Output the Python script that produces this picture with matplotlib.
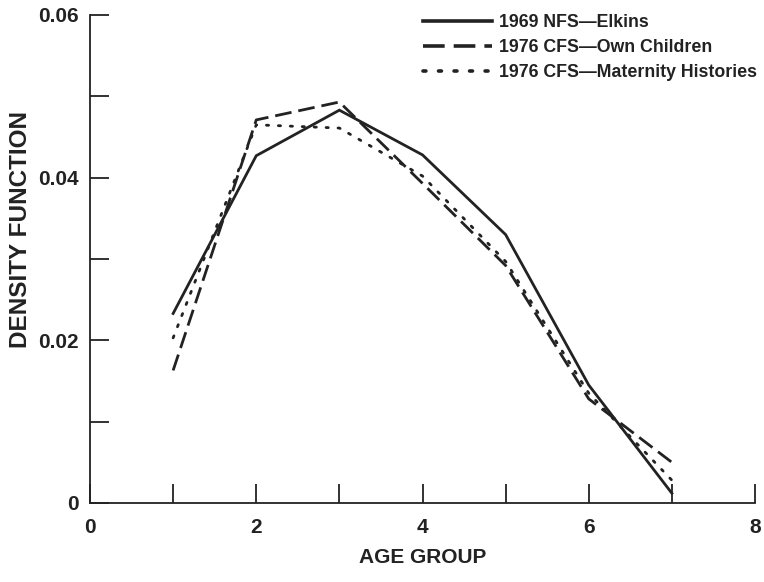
import matplotlib
matplotlib.use("Agg")
import matplotlib.pyplot as plt
from matplotlib.ticker import FixedLocator

age_group = [1, 2, 3, 4, 5, 6, 7]
nfs_elkins = [0.0233, 0.0427, 0.0483, 0.0428, 0.0330, 0.0145, 0.0012]
cfs_own_children = [0.0163, 0.0471, 0.0493, 0.0393, 0.0292, 0.0128, 0.0050]
cfs_maternity = [0.0203, 0.0465, 0.0461, 0.0402, 0.0297, 0.0135, 0.0028]

labels = ["1969 NFS\u2014Elkins", "1976 CFS\u2014Own Children", "1976 CFS\u2014Maternity Histories"]
x_ticks = [0, 2, 4, 6, 8]
y_ticks = [0, 0.02, 0.04, 0.06]
y_tick_labels = ['0', '0.02', '0.04', '0.06']

plt.rcParams['font.family'] = ['Liberation Sans', 'DejaVu Sans']

fig = plt.figure(figsize=(7.64, 5.82), dpi=100)
ax = fig.add_axes([90/764, 79/582, 665/764, 488/582])

col = '#222222'
lw = 2.0
ax.plot(age_group, nfs_elkins, color=col, lw=lw, solid_joinstyle='miter', label=labels[0])
ax.plot(age_group, cfs_own_children, color=col, lw=lw, linestyle=(0, (6, 2.5)), label=labels[1])
ax.plot(age_group, cfs_maternity, color=col, lw=lw, linestyle=(0, (0.8, 3.5)), dash_capstyle='round', label=labels[2])

ax.set_xlim(0, 8)
ax.set_ylim(0, 0.06)
for s in ['top', 'right']:
    ax.spines[s].set_visible(False)
for s in ['left', 'bottom']:
    ax.spines[s].set_linewidth(1.3)
    ax.spines[s].set_color(col)

ax.xaxis.set_major_locator(FixedLocator(x_ticks))
ax.xaxis.set_minor_locator(FixedLocator([1, 3, 5, 7]))
ax.set_xticklabels([str(v) for v in x_ticks])
ax.yaxis.set_major_locator(FixedLocator(y_ticks))
ax.yaxis.set_minor_locator(FixedLocator([0.01, 0.03, 0.05]))
ax.set_yticklabels(y_tick_labels)

ax.tick_params(axis='both', which='both', direction='in', length=14, width=1.3, color=col)
ax.tick_params(axis='x', which='both', pad=11, labelsize=15)
ax.tick_params(axis='y', which='both', pad=8, labelsize=15)
for t in ax.get_xticklabels() + ax.get_yticklabels():
    t.set_fontweight('bold')
    t.set_color(col)

ax.set_xlabel('AGE GROUP', fontsize=15, color=col, fontweight='bold')
ax.xaxis.set_label_coords(0.5, -0.092)
ax.set_ylabel('DENSITY FUNCTION', fontsize=17.5, color=col, fontweight='bold')
ax.yaxis.set_label_coords(-0.087, 0.56)

leg = ax.legend(loc='upper right', bbox_to_anchor=(757/764, 1 - 14/582), bbox_transform=fig.transFigure,
                frameon=False, handlelength=3.9, handletextpad=0.4, labelspacing=0.45,
                borderpad=0, borderaxespad=0,
                prop={'weight': 'bold', 'size': 12.8})
for t in leg.get_texts():
    t.set_color(col)
for h in leg.get_lines():
    h.set_linewidth(2.6)

fig.savefig('out.png', dpi=100)
